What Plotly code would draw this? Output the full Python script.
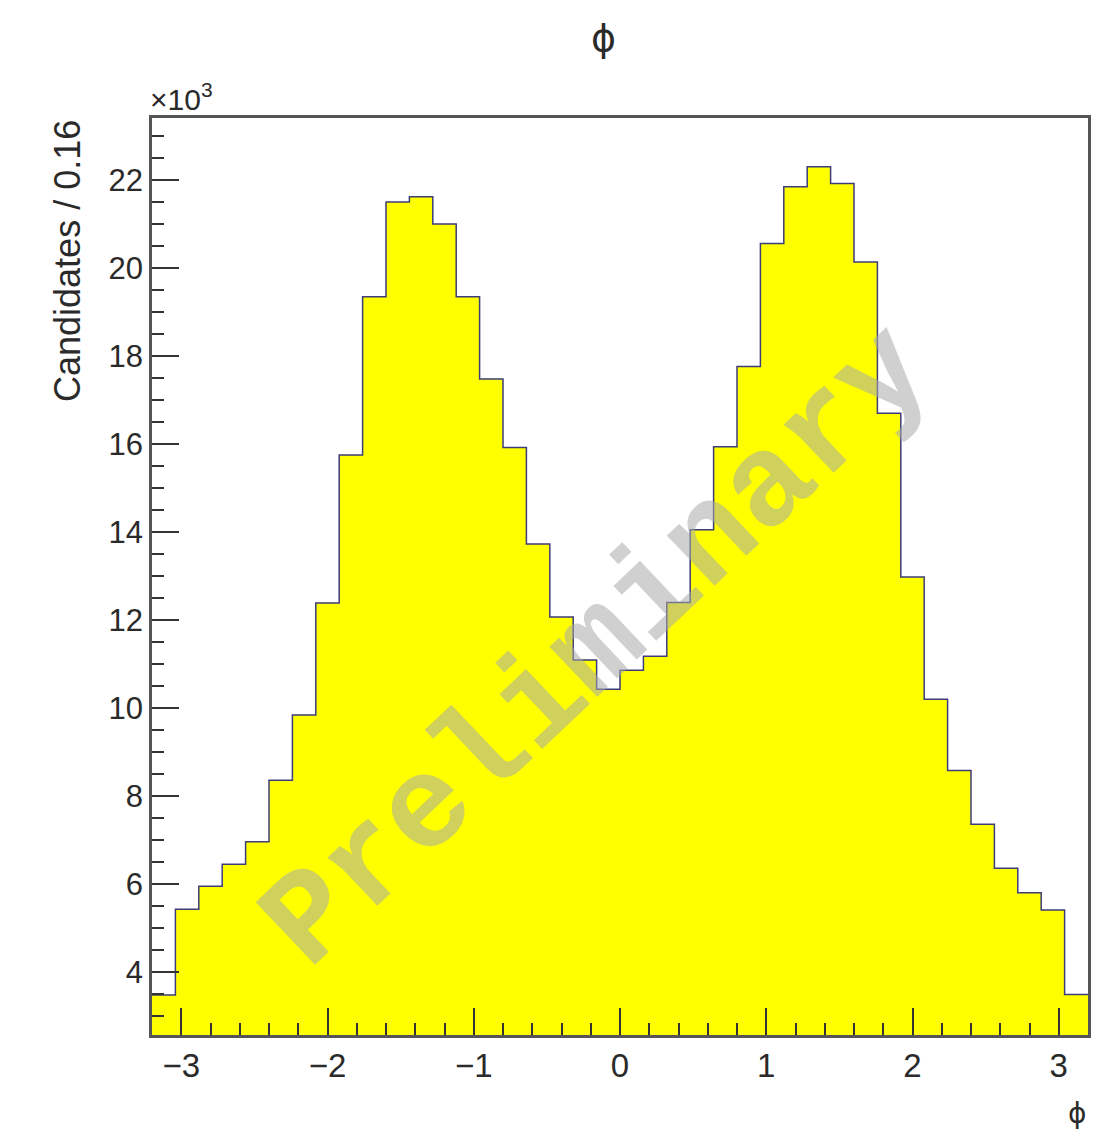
import numpy as np
import plotly.graph_objects as go

# Azimuthal angle distribution, 40 bins of width 0.16 over [-3.2, 3.2]
phi_low, phi_high, n_bins = -3.2, 3.2, 40
# candidates per bin, in units of 10^3
candidates_k = [
    3.48, 5.43, 5.95, 6.45, 6.96, 8.36, 9.84, 12.39, 15.75, 19.35,
    21.50, 21.62, 21.00, 19.35, 17.48, 15.92, 13.73, 12.07, 11.09, 10.43,
    10.86, 11.18, 12.40, 14.05, 15.94, 17.76, 20.56, 21.85, 22.30, 21.92,
    20.14, 16.70, 12.98, 10.20, 8.58, 7.36, 6.36, 5.80, 5.41, 3.49,
]
x_ticks = [-3, -2, -1, 0, 1, 2, 3]
y_ticks = [4, 6, 8, 10, 12, 14, 16, 18, 20, 22]

edges = np.linspace(phi_low, phi_high, n_bins + 1)
step_y = list(candidates_k) + [candidates_k[-1]]

fig = go.Figure()
fig.add_trace(go.Scatter(
    x=edges, y=step_y,
    mode="lines", line_shape="hv",
    line=dict(color="#3d3d7a", width=1.5),
    fill="tozeroy", fillcolor="#ffff00",
    hoverinfo="skip", showlegend=False,
))

axis_font = dict(family="Liberation Sans, Arial, sans-serif", color="#2a2a2a")

fig.update_layout(
    width=1112, height=1133,
    margin=dict(l=152, r=24, t=118, b=98),
    paper_bgcolor="white", plot_bgcolor="white",
    showlegend=False,
    xaxis=dict(
        range=[phi_low, phi_high],
        tickmode="array", tickvals=x_ticks,
        ticks="inside", ticklen=27, tickwidth=2, tickcolor="#333333",
        minor=dict(dtick=0.2, tick0=0, ticks="inside", ticklen=12,
                   tickwidth=2, tickcolor="#333333"),
        showline=True, linecolor="#555555", linewidth=2.5, mirror=True,
        showgrid=False, zeroline=False,
        tickfont=dict(size=33, **axis_font),
        ticklabelstandoff=0,
    ),
    yaxis=dict(
        range=[2.57, 23.41],
        tickmode="array", tickvals=y_ticks,
        ticks="inside", ticklen=27, tickwidth=2, tickcolor="#333333",
        minor=dict(dtick=0.5, tick0=0, ticks="inside", ticklen=12,
                   tickwidth=2, tickcolor="#333333"),
        showline=True, linecolor="#555555", linewidth=2.5, mirror=True,
        showgrid=False, zeroline=False,
        tickfont=dict(size=31, **axis_font),
    ),
)

# histogram title
fig.add_annotation(
    text="ϕ", xref="paper", yref="paper", x=(603 - 152) / 936, y=1.0 + 80 / 917,
    xanchor="center", yanchor="middle", showarrow=False,
    font=dict(family="DejaVu Sans, sans-serif", size=38, color="#2a2a2a"),
)
# y-axis title
fig.add_annotation(
    text="Candidates / 0.16", xref="paper", yref="paper",
    x=-85 / 936, y=1.0, xanchor="center", yanchor="top",
    textangle=-90, showarrow=False,
    font=dict(size=36, **axis_font),
)
# x-axis title
fig.add_annotation(
    text="ϕ", xref="paper", yref="paper",
    x=1.0, y=-78 / 917, xanchor="right", yanchor="middle",
    showarrow=False,
    font=dict(family="DejaVu Sans, sans-serif", size=28, color="#2a2a2a"),
)
# exponent of the y axis
fig.add_annotation(
    text="×10<sup>3</sup>", xref="paper", yref="paper",
    x=-4 / 936, y=1.0, xanchor="left", yanchor="bottom",
    showarrow=False,
    font=dict(size=30, **axis_font),
)
# watermark
fig.add_annotation(
    text="<b>Preliminary</b>", xref="paper", yref="paper",
    x=(598 - 152) / 936, y=(1035 - 648) / 917,
    xanchor="center", yanchor="middle", textangle=-43.5,
    showarrow=False,
    font=dict(family="Liberation Mono, Courier New, monospace", size=131,
              color="rgba(170,170,170,0.55)"),
)

fig.write_html("out.html")
